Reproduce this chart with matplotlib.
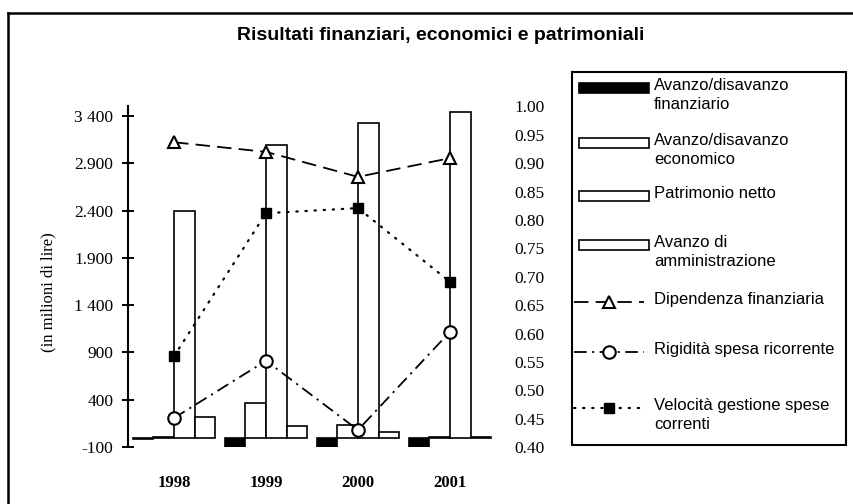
import matplotlib

matplotlib.use("Agg")
import matplotlib.pyplot as plt
from matplotlib.patches import Rectangle
from matplotlib.lines import Line2D
import numpy as np

# --- Data ---
years = ["1998", "1999", "2000", "2001"]
avanzo_fin = [-20, -95, -95, -95]          # Avanzo/disavanzo finanziario
avanzo_econ = [10, 365, 130, 5]            # Avanzo/disavanzo economico
patrimonio = [2400, 3090, 3330, 3440]      # Patrimonio netto
avanzo_amm = [220, 120, 55, 5]             # Avanzo di amministrazione

dipendenza = [0.937, 0.920, 0.876, 0.909]  # Dipendenza finanziaria
rigidita = [0.451, 0.552, 0.430, 0.603]    # Rigidita spesa ricorrente
velocita = [0.560, 0.812, 0.821, 0.691]    # Velocita gestione spese correnti

left_ticks = [-100, 400, 900, 1400, 1900, 2400, 2900, 3400]
left_labels = ["-100", "400", "900", "1 400", "1.900", "2.400", "2.900", "3 400"]
right_ticks = [0.40, 0.45, 0.50, 0.55, 0.60, 0.65, 0.70, 0.75, 0.80, 0.85, 0.90, 0.95, 1.00]
right_labels = ["0.40", "0.45", "0.50", "0.55", "0.60", "0.65", "0.70", "0.75",
                "0.80", "0.85", "0.90", "0.95", "1.00"]

bar_labels = ["Avanzo/disavanzo\nfinanziario", "Avanzo/disavanzo\neconomico",
              "Patrimonio netto", "Avanzo di\namministrazione"]
line_labels = ["Dipendenza finanziaria", "Rigidità spesa ricorrente",
               "Velocità gestione spese\ncorrenti"]

# --- Styles ---
W, H, DPI = 854, 504, 100
SERIF = "Liberation Serif"
SANS = "Liberation Sans"

bar_styles = [
    dict(facecolor="black", edgecolor="black", linewidth=1.2),
    dict(facecolor="white", edgecolor="black", linewidth=1.2),
    dict(facecolor="white", edgecolor="black", linewidth=1.2),
    dict(facecolor="white", edgecolor="black", linewidth=1.2),
]
line_styles = [
    dict(color="black", lw=1.3, dashes=(8, 4), marker="^", ms=8,
         mfc="white", mec="black", mew=1.5),
    dict(color="black", lw=1.3, dashes=(7, 3, 1.2, 3), marker="o", ms=9,
         mfc="white", mec="black", mew=1.5),
    dict(color="black", lw=1.6, dashes=(0.6, 3.5), dash_capstyle="round",
         marker="s", ms=7.5, mfc="black", mec="black", mew=1),
]

fig = plt.figure(figsize=(W / DPI, H / DPI), dpi=DPI)

# plot area in pixels: x 128..496, y 106.5..447
ax = fig.add_axes([128 / W, 1 - 447 / H, (496 - 128) / W, (447 - 106.5) / H])
x = np.arange(len(years))
w = 0.223

for k, (vals, st) in enumerate(zip([avanzo_fin, avanzo_econ, patrimonio, avanzo_amm],
                                   bar_styles)):
    ax.bar(x + (k - 2) * w, vals, width=w, align="edge", zorder=2, **st)

ax.set_xlim(-0.5, 3.5)
ax.set_ylim(-100, 3500)
ax.set_yticks(left_ticks)
ax.set_yticklabels(left_labels, fontsize=12.5, family=SERIF)
ax.set_xticks(x)
ax.set_xticklabels(years, fontsize=12, family=SERIF, fontweight="bold")
ax.tick_params(axis="x", length=0, pad=20)
ax.tick_params(axis="y", direction="inout", length=9, width=1.4, pad=6)
for s in ["top", "right", "bottom"]:
    ax.spines[s].set_visible(False)
ax.spines["left"].set_linewidth(1.5)
ax.patch.set_visible(False)

ax2 = ax.twinx()
for vals, st in zip([dipendenza, rigidita, velocita], line_styles):
    ax2.plot(x, vals, zorder=4, **st)
ax2.set_ylim(0.40, 1.00)
ax2.set_yticks(right_ticks)
ax2.set_yticklabels(right_labels, fontsize=12.5, family=SERIF)
ax2.tick_params(axis="y", length=0, pad=13)
for s in ax2.spines.values():
    s.set_visible(False)

fig.text(48 / W, 1 - 292 / H, "(in milioni di lire)", rotation=90, ha="center",
         va="center", fontsize=12, family=SERIF)
fig.text(441 / W, 1 - 35 / H, "Risultati finanziari, economici e patrimoniali",
         ha="center", va="center", fontsize=14, family=SANS, fontweight="bold")

# --- Legend and outer frame, drawn in pixel coordinates ---
lax = fig.add_axes([0, 0, 1, 1], zorder=5)
lax.set_xlim(0, W)
lax.set_ylim(H, 0)
lax.axis("off")

lax.add_line(Line2D([8, W], [13, 13], color="black", lw=1.8))
lax.add_line(Line2D([8, 8], [13, H], color="black", lw=1.8))
lax.add_patch(Rectangle((572, 72), 274, 373, facecolor="none", edgecolor="black", lw=1.5))

hx0, hx1, tx = 577, 647, 654
bar_rows = [88, 143, 196, 245]
for y, st, lab in zip(bar_rows, bar_styles, bar_labels):
    lax.add_patch(Rectangle((hx0 + 2, y - 5), hx1 - hx0, 10, **st))
    lax.text(tx, y - 10, lab, va="top", ha="left", fontsize=12, family=SANS,
             linespacing=1.3)

line_rows = [302, 352, 408]
for y, st, lab in zip(line_rows, line_styles, line_labels):
    st_line = {k: v for k, v in st.items() if k not in ("marker", "ms", "mfc", "mec", "mew")}
    lax.add_line(Line2D([hx0 - 3, hx1 - 3], [y, y], **st_line))
    lax.add_line(Line2D([(hx0 + hx1) / 2 - 3], [y], ls="none", marker=st["marker"],
                        ms=st["ms"], mfc=st["mfc"], mec=st["mec"], mew=st["mew"]))
    lax.text(tx, y - 10, lab, va="top", ha="left", fontsize=12, family=SANS,
             linespacing=1.3)

fig.savefig("out.png", dpi=DPI)
